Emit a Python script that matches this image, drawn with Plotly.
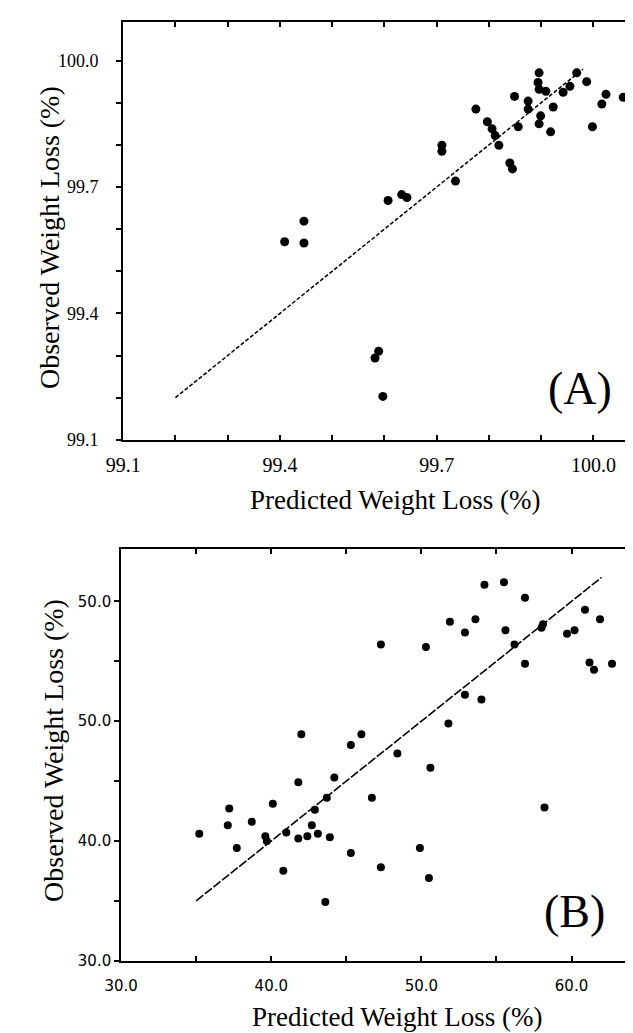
import plotly.graph_objects as go

# ---------------- Panel A data ----------------
a_pred = [99.409, 99.446, 99.446, 99.607, 99.633, 99.643, 99.589, 99.582, 99.597,
          99.710, 99.710, 99.736, 99.775, 99.797, 99.806, 99.812, 99.819, 99.840,
          99.845, 99.849, 99.856, 99.875, 99.875, 99.896, 99.894, 99.896, 99.899,
          99.896, 99.918, 99.909, 99.923, 99.942, 99.955, 99.968, 99.987, 100.024,
          100.016, 100.057, 99.998]
a_obs = [99.570, 99.619, 99.567, 99.668, 99.682, 99.675, 99.310, 99.294, 99.203,
         99.799, 99.785, 99.714, 99.885, 99.855, 99.838, 99.822, 99.799, 99.757,
         99.743, 99.915, 99.843, 99.904, 99.885, 99.971, 99.948, 99.932, 99.869,
         99.850, 99.831, 99.927, 99.890, 99.925, 99.939, 99.971, 99.950, 99.920,
         99.897, 99.913, 99.843]
a_fit = [99.2, 99.98]
a_ticks = [99.1, 99.2, 99.3, 99.4, 99.5, 99.6, 99.7, 99.8, 99.9, 100.0]
a_ticktext = ["99.1", "", "", "99.4", "", "", "99.7", "", "", "100.0"]

# ---------------- Panel B data ----------------
b_pred = [35.2, 37.1, 37.2, 37.7, 38.7, 39.6, 39.7, 40.1, 40.8, 41.0, 41.8, 41.8,
          42.4, 42.7, 42.9, 43.1, 43.6, 43.7, 43.9, 44.2, 45.3, 45.3, 46.7, 42.0,
          46.0, 54.2, 55.5, 56.9, 47.3, 50.3, 51.9, 52.9, 53.6, 55.6, 56.2, 56.9,
          58.1, 58.0, 59.7, 60.2, 60.9, 61.9, 61.2, 61.5, 62.7, 52.9, 54.0, 51.8,
          48.4, 50.6, 47.3, 49.9, 50.5, 58.2]
b_obs = [40.6, 41.3, 42.7, 39.4, 41.6, 40.4, 40.0, 43.1, 37.5, 40.7, 44.9, 40.2,
         40.4, 41.3, 42.6, 40.6, 34.9, 43.6, 40.3, 45.3, 39.0, 48.0, 43.6, 48.9,
         48.9, 61.4, 61.6, 60.3, 56.4, 56.2, 58.3, 57.4, 58.5, 57.6, 56.4, 54.8,
         58.1, 57.8, 57.3, 57.6, 59.3, 58.5, 54.9, 54.3, 54.8, 52.2, 51.8, 49.8,
         47.3, 46.1, 37.8, 39.4, 36.9, 42.8]
b_fit = [35.0, 62.0]
b_xticks = [30, 35, 40, 45, 50, 55, 60]
b_xticktext = ["30.0", "", "40.0", "", "50.0", "", "60.0"]
b_yticks = [30, 35, 40, 45, 50, 55, 60]
b_yticktext = ["30.0", "", "40.0", "", "50.0", "", "50.0"]

W, H = 633, 1033

def fx(px):
    return px / W

def fy(py):
    return (H - py) / H

fig = go.Figure()

# Panel A
fig.add_trace(go.Scatter(x=a_fit, y=a_fit, mode="lines",
                         line=dict(color="black", width=1.5, dash="4px,2px"),
                         xaxis="x", yaxis="y", showlegend=False))
fig.add_trace(go.Scatter(x=a_pred, y=a_obs, mode="markers",
                         marker=dict(color="black", size=9, symbol="circle"),
                         xaxis="x", yaxis="y", showlegend=False))
# Panel B
fig.add_trace(go.Scatter(x=b_fit, y=b_fit, mode="lines",
                         line=dict(color="black", width=1.6, dash="9px,2px"),
                         xaxis="x2", yaxis="y2", showlegend=False))
fig.add_trace(go.Scatter(x=b_pred, y=b_obs, mode="markers",
                         marker=dict(color="black", size=8, symbol="circle"),
                         xaxis="x2", yaxis="y2", showlegend=False))

tickfont_a_x = dict(family="Liberation Serif", size=20, color="black")
tickfont_a_y = dict(family="Liberation Serif", size=18, color="black")
tickfont_b = dict(family="DejaVu Sans", size=15, color="black")

common = dict(showgrid=False, zeroline=False, showline=True, linecolor="black",
              linewidth=2, tickcolor="black", tickwidth=1.5, ticklen=5)

fig.update_layout(
    width=W, height=H,
    margin=dict(l=0, r=0, t=0, b=0),
    paper_bgcolor="white", plot_bgcolor="white",
    xaxis=dict(domain=[fx(100), 1.0], range=[99.1, 100.091], anchor="y",
               tickvals=a_ticks, ticktext=a_ticktext, ticks="inside",
               mirror="ticks", tickfont=tickfont_a_x, ticklabelstandoff=6,
               **common),
    yaxis=dict(domain=[fy(436), fy(14)], range=[99.1, 100.092], anchor="x",
               tickvals=a_ticks, ticktext=a_ticktext, ticks="outside",
               tickfont=tickfont_a_y, ticklabelstandoff=14, **common),
    xaxis2=dict(domain=[fx(98), 1.0], range=[30, 64.63], anchor="y2",
                tickvals=b_xticks, ticktext=b_xticktext, ticks="inside",
                mirror="ticks", tickfont=tickfont_b, ticklabelstandoff=10,
                **common),
    yaxis2=dict(domain=[fy(962), fy(546)], range=[30, 64.4], anchor="x2",
                tickvals=b_yticks, ticktext=b_yticktext, ticks="outside",
                tickfont=tickfont_b, ticklabelstandoff=0, **common),
)

title_font = dict(family="Liberation Serif", size=27, color="black")
ytitle_font = dict(family="Liberation Serif", size=28, color="black")
panel_font = dict(family="Liberation Serif", size=46, color="black")

ann = [
    dict(text="Predicted Weight Loss (%)", x=fx(380), y=fy(497), font=title_font),
    dict(text="Observed Weight Loss (%)", x=fx(24), y=fy(232), font=ytitle_font, textangle=-90),
    dict(text="(A)", x=fx(570), y=fy(384), font=panel_font),
    dict(text="Predicted Weight Loss (%)", x=fx(382), y=fy(1019), font=title_font),
    dict(text="Observed Weight Loss (%)", x=fx(29), y=fy(750), font=ytitle_font, textangle=-90),
    dict(text="(B)", x=fx(565), y=fy(912), font=panel_font),
]
for a in ann:
    fig.add_annotation(xref="paper", yref="paper", showarrow=False,
                       xanchor="center", yanchor="middle", **a)

fig.write_html("out.html")
